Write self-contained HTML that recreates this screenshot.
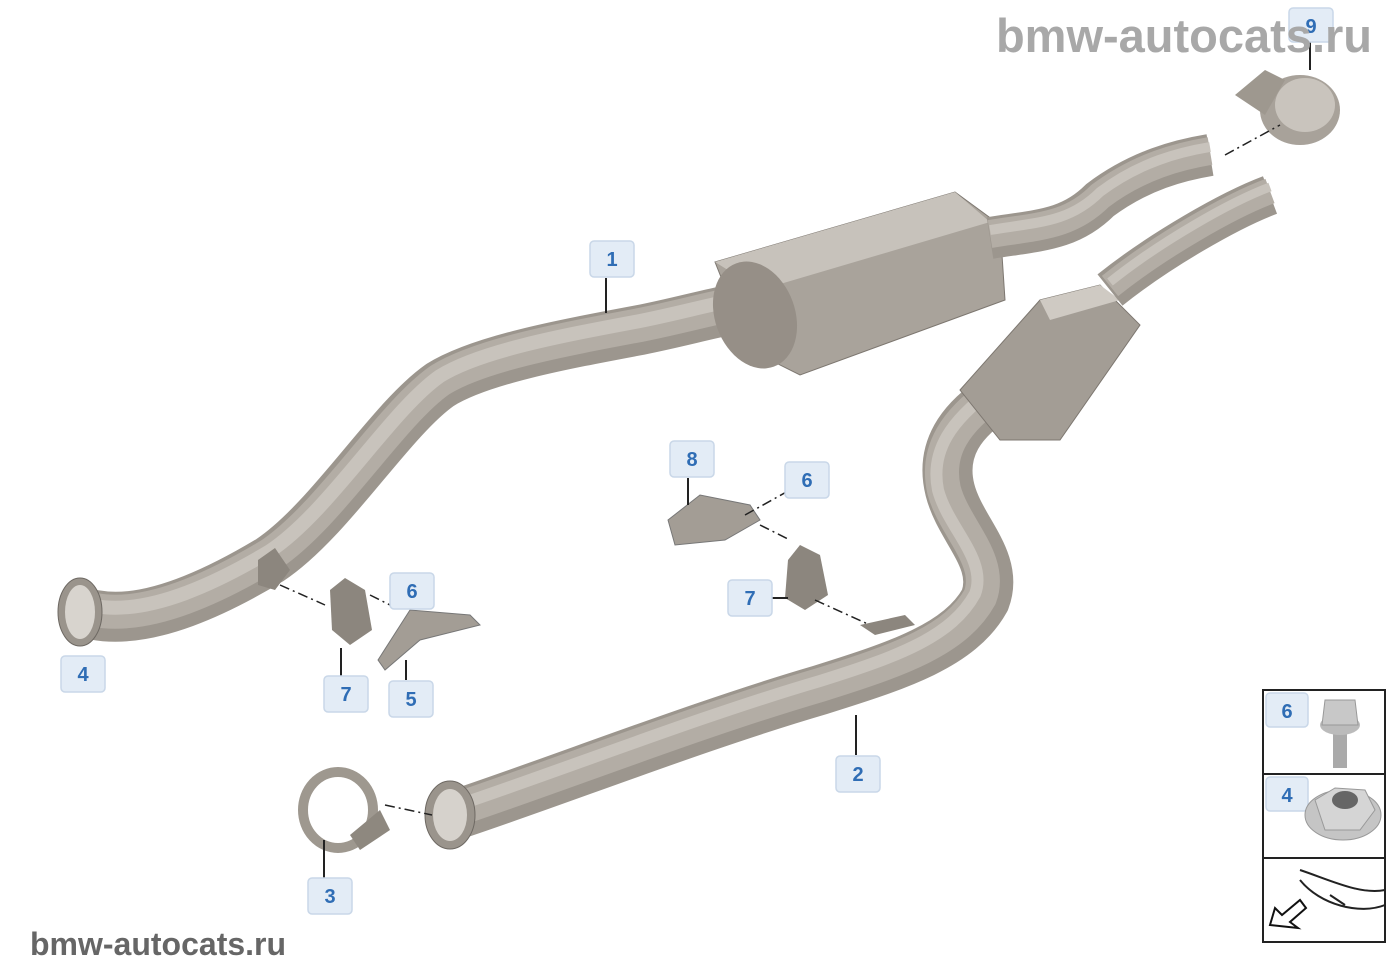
<!DOCTYPE html>
<html><head><style>
html,body{margin:0;padding:0;background:#fff;}
svg{display:block;}
.lb rect{fill:#e3ecf6;stroke:#c9d7e8;stroke-width:1.5;}
.lb text{font:bold 20px "Liberation Sans",sans-serif;fill:#2f6db5;text-anchor:middle;}
.ld{stroke:#222;stroke-width:2;fill:none;}
.dd{stroke:#222;stroke-width:1.5;fill:none;stroke-dasharray:10 4 2 4;}
</style></head><body>
<svg width="1400" height="980" viewBox="0 0 1400 980" xmlns="http://www.w3.org/2000/svg">
<!-- pipe 1 -->
<path d="M95,615 C150,625 220,590 270,560 C330,520 390,420 440,385 C480,360 560,345 640,330 C690,320 720,310 760,305" stroke="#9c968e" stroke-width="50" fill="none" stroke-linecap="round"/>
<path d="M95,610 C150,620 220,585 270,555 C330,515 390,415 440,380 C480,355 560,340 640,325 C690,315 720,305 760,300" stroke="#b3ada5" stroke-width="34" fill="none"/>
<path d="M95,606 C150,616 220,581 270,551 C330,511 390,411 440,376 C480,351 560,336 640,321 C690,311 720,301 760,296" stroke="#c8c3bc" stroke-width="14" fill="none"/>
<ellipse cx="80" cy="612" rx="22" ry="34" fill="#9a948c" stroke="#6e6963"/>
<ellipse cx="80" cy="612" rx="15" ry="27" fill="#d8d4ce"/>
<!-- muffler -->
<polygon points="715,262 955,192 1000,225 1005,300 800,375 750,350" fill="#a9a39b" stroke="#7d7770"/>
<polygon points="715,262 955,192 990,222 760,290" fill="#c7c2bb"/>
<ellipse cx="755" cy="315" rx="40" ry="55" fill="#968f87" transform="rotate(-20 755 315)"/>
<!-- pipe right top -->
<path d="M990,238 C1040,230 1070,230 1100,200 C1140,170 1180,160 1210,155" stroke="#9c968e" stroke-width="42" fill="none"/>
<path d="M990,234 C1040,226 1070,226 1100,196 C1140,166 1180,156 1210,151" stroke="#b3ada5" stroke-width="28" fill="none"/>
<path d="M990,230 C1040,222 1070,222 1100,192 C1140,162 1180,152 1210,147" stroke="#c8c3bc" stroke-width="10" fill="none"/>
<!-- pipe 2 -->
<path d="M455,815 C560,780 700,725 820,690 C900,665 960,645 985,600 C1000,560 960,530 950,490 C940,450 960,420 1000,395" stroke="#9c968e" stroke-width="50" fill="none"/>
<path d="M455,810 C560,775 700,720 820,685 C900,660 956,640 980,597 C994,560 954,528 944,490 C935,450 956,420 996,392" stroke="#b3ada5" stroke-width="34" fill="none"/>
<path d="M455,806 C560,771 700,716 820,681 C900,656 952,636 975,594 C988,560 948,528 938,490 C930,450 952,420 992,390" stroke="#c8c3bc" stroke-width="12" fill="none"/>
<!-- cat -->
<path d="M960,390 L1040,300 L1100,285 L1140,325 L1060,440 L1000,440 Z" fill="#a39d95" stroke="#7d7770"/>
<path d="M1040,300 L1100,285 L1120,300 L1050,320 Z" fill="#cfcac3"/>
<path d="M1110,290 C1160,250 1230,210 1270,195" stroke="#9c968e" stroke-width="40" fill="none"/>
<path d="M1110,286 C1160,246 1230,206 1270,191" stroke="#b3ada5" stroke-width="26" fill="none"/>
<path d="M1110,282 C1160,242 1230,202 1270,187" stroke="#c8c3bc" stroke-width="9" fill="none"/>
<ellipse cx="450" cy="815" rx="25" ry="34" fill="#9a948c" stroke="#6e6963"/>
<ellipse cx="450" cy="815" rx="17" ry="26" fill="#d6d2cc"/>
<!-- clamp 9 -->
<ellipse cx="1300" cy="110" rx="40" ry="35" fill="#a8a29a"/>
<ellipse cx="1305" cy="105" rx="30" ry="27" fill="#c9c4bd"/>
<polygon points="1235,95 1265,70 1285,80 1265,115" fill="#9e988f"/>
<line class="dd" x1="1225" y1="155" x2="1280" y2="125"/>
<!-- clamp 3 -->
<ellipse cx="338" cy="810" rx="35" ry="38" fill="none" stroke="#9e988f" stroke-width="10"/>
<polygon points="350,835 380,810 390,830 360,850" fill="#8e887f"/>
<line class="dd" x1="385" y1="805" x2="432" y2="815"/>
<!-- hangers -->
<path d="M330,590 L345,578 L365,590 L372,630 L350,645 L332,630 Z" fill="#8c867e"/>
<path d="M788,560 L800,545 L820,555 L828,595 L805,610 L785,598 Z" fill="#8c867e"/>
<path d="M668,520 L700,495 L750,505 L760,520 L725,540 L675,545 Z" fill="#a39d95" stroke="#777"/>
<path d="M378,660 L410,610 L470,615 L480,625 L420,640 L385,670 Z" fill="#a39d95" stroke="#777"/>
<path d="M258,560 L275,548 L290,570 L275,590 L258,585 Z" fill="#8c867e"/>
<line class="dd" x1="280" y1="585" x2="325" y2="605"/>
<line class="dd" x1="370" y1="595" x2="400" y2="610"/>
<line class="dd" x1="745" y1="515" x2="790" y2="490"/>
<line class="dd" x1="760" y1="525" x2="790" y2="540"/>
<line class="dd" x1="815" y1="600" x2="870" y2="625"/>
<path d="M860,625 L905,615 L915,625 L875,635 Z" fill="#8c867e"/>
<!-- leader lines -->
<line class="ld" x1="606" y1="278" x2="606" y2="313"/>
<line class="ld" x1="1310" y1="42" x2="1310" y2="70"/>
<line class="ld" x1="856" y1="715" x2="856" y2="755"/>
<line class="ld" x1="324" y1="840" x2="324" y2="878"/>
<line class="ld" x1="341" y1="648" x2="341" y2="676"/>
<line class="ld" x1="406" y1="660" x2="406" y2="680"/>
<line class="ld" x1="688" y1="478" x2="688" y2="505"/>
<line class="ld" x1="770" y1="598" x2="788" y2="598"/>
<!-- labels -->
<g class="lb">
<g transform="translate(590,241)"><rect width="44" height="36" rx="4"/><text x="22" y="25">1</text></g>
<g transform="translate(836,756)"><rect width="44" height="36" rx="4"/><text x="22" y="25">2</text></g>
<g transform="translate(308,878)"><rect width="44" height="36" rx="4"/><text x="22" y="25">3</text></g>
<g transform="translate(61,656)"><rect width="44" height="36" rx="4"/><text x="22" y="25">4</text></g>
<g transform="translate(389,681)"><rect width="44" height="36" rx="4"/><text x="22" y="25">5</text></g>
<g transform="translate(390,573)"><rect width="44" height="36" rx="4"/><text x="22" y="25">6</text></g>
<g transform="translate(785,462)"><rect width="44" height="36" rx="4"/><text x="22" y="25">6</text></g>
<g transform="translate(324,676)"><rect width="44" height="36" rx="4"/><text x="22" y="25">7</text></g>
<g transform="translate(728,580)"><rect width="44" height="36" rx="4"/><text x="22" y="25">7</text></g>
<g transform="translate(670,441)"><rect width="44" height="36" rx="4"/><text x="22" y="25">8</text></g>
<g transform="translate(1289,8)"><rect width="44" height="34" rx="4"/><text x="22" y="25">9</text></g>
</g>
<text x="1372" y="52" font-family="Liberation Sans,sans-serif" font-weight="bold" font-size="47" fill="#a8a8a8" text-anchor="end">bmw-autocats.ru</text>
<text x="30" y="955" font-family="Liberation Sans,sans-serif" font-weight="bold" font-size="32" fill="#666">bmw-autocats.ru</text>
<!-- right panel -->
<rect x="1263" y="690" width="122" height="252" fill="#fff" stroke="#222" stroke-width="2"/>
<line x1="1263" y1="774" x2="1385" y2="774" stroke="#222" stroke-width="2"/>
<line x1="1263" y1="858" x2="1385" y2="858" stroke="#222" stroke-width="2"/>
<g class="lb">
<g transform="translate(1266,693)"><rect width="42" height="34" rx="4"/><text x="21" y="25">6</text></g>
<g transform="translate(1266,777)"><rect width="42" height="34" rx="4"/><text x="21" y="25">4</text></g>
</g>
<rect x="1333" y="730" width="14" height="38" fill="#aaa"/>
<ellipse cx="1340" cy="725" rx="20" ry="10" fill="#bbb"/>
<polygon points="1325,700 1355,700 1358,725 1322,725" fill="#c8c8c8" stroke="#999"/>
<ellipse cx="1343" cy="815" rx="38" ry="25" fill="#c5c5c5" stroke="#999"/>
<polygon points="1315,800 1335,788 1365,790 1375,810 1360,830 1325,830" fill="#d5d5d5" stroke="#999"/>
<ellipse cx="1345" cy="800" rx="13" ry="9" fill="#666"/>
<path d="M1300,870 C1330,880 1360,895 1385,890 M1300,880 C1320,905 1360,915 1385,905 M1330,895 L1345,905" stroke="#222" stroke-width="2" fill="none"/>
<polygon points="1270,925 1275,908 1282,915 1300,900 1306,908 1290,922 1298,928" fill="#fff" stroke="#111" stroke-width="2"/>
</svg>
</body></html>
